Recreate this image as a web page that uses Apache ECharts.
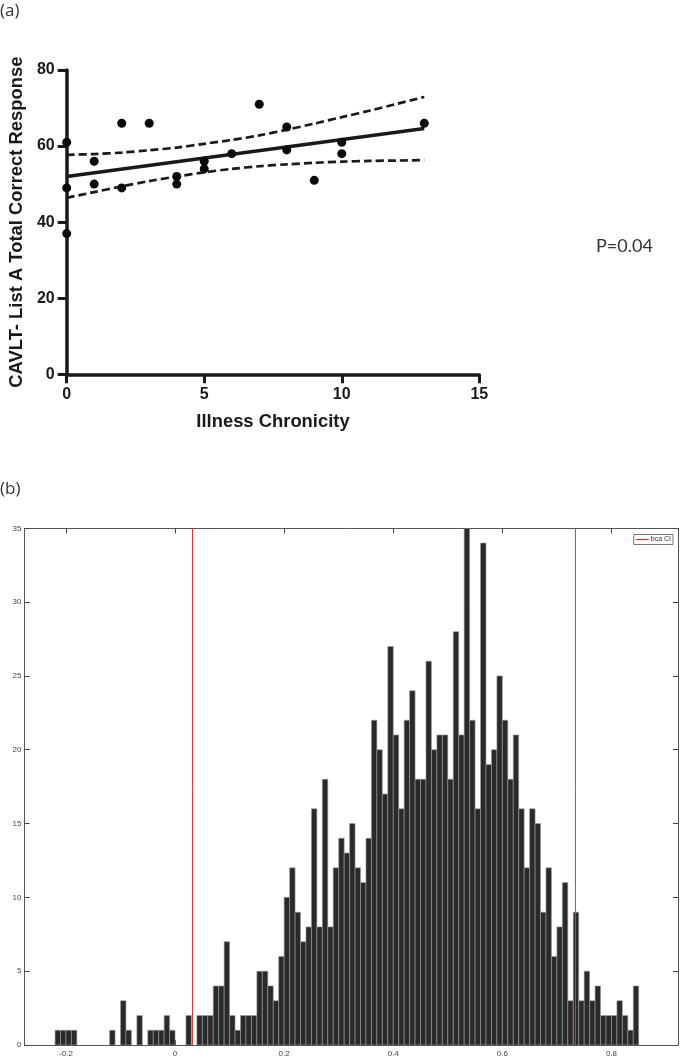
<!DOCTYPE html>
<html><head><meta charset="utf-8">
<script src="https://cdn.jsdelivr.net/npm/echarts@6/dist/echarts.min.js"></script>
<style>html,body{margin:0;padding:0;background:#fff}#c{width:685px;height:1060px}</style>
</head><body><div id="c"></div>
<script>
// ---- Panel (a) data ----
const chronicityX = [0,0,0,1,1,2,2,3,4,4,5,5,6,7,8,8,9,10,10,13];
const cavltY      = [61,49,37,56,50,66,49,66,52,50,56,54,58,71,65,59,51,61,58,66];
const fitX = [0, 13];
const fitY = [52.0, 64.6];
const bandX     = [0,1,2,3,4,5,6,7,8,9,10,11,12,13];
const bandUpper = [57.7,57.9,58.3,58.9,59.6,60.6,61.6,62.8,64.3,65.9,67.6,69.3,71.1,72.9];
const bandLower = [46.4,47.9,49.4,50.8,52.0,53.1,54.0,54.7,55.2,55.6,55.9,56.1,56.2,56.3];
const pValueText = 'P=0.04';

// ---- Panel (b) data ----
const histStart = -0.22;
const histBinWidth = 0.01;
const histCounts = [
  1,1,1,1,0,0,0,0,0,0, 1,0,3,1,0,2,0,1,1,1,
  2,1,0,0,2,0,2,2,2,4, 4,7,2,1,2,2,2,5,5,4,
  3,6,10,12,9,7,8,16,8,18, 8,12,14,13,15,12,11,14,22,20,
  17,27,21,16,22,24,18,18,26,20, 21,21,18,28,21,35,22,16,34,19,
  20,25,22,18,21,16,12,16,15,9, 12,6,8,11,3,9,3,5,3,4,
  2,2,2,3,2,1,4
];
const bcaCI = [0.032, 0.734];
const histTicks = [-0.2, 0, 0.2, 0.4, 0.6, 0.8];

const histData = [];
histCounts.forEach((c, i) => {
  if (c > 0) {
    const x0 = Math.round((histStart + i * histBinWidth) * 1000) / 1000;
    const x1 = Math.round((histStart + (i + 1) * histBinWidth) * 1000) / 1000;
    histData.push([x0, x1, c]);
  }
});
const ciLineData = [[bcaCI[0], 0], [bcaCI[0], 35], '-', [bcaCI[1], 0], [bcaCI[1], 35]];

const chart = echarts.init(document.getElementById('c'), null, {renderer: 'canvas'});
const dark = '#1a1a1a';
const boldFont = 'Liberation Sans';
const ciColor = '#d43c3c';

const option = {
  backgroundColor: '#fff',
  animation: false,
  grid: [
    {left: 66.7, right: 205.7, top: 70, bottom: 685.7, containLabel: false},
    {left: 24.5, right: 7, top: 528.3, bottom: 15, containLabel: false}
  ],
  xAxis: [
    {
      gridIndex: 0, type: 'value', min: 0, max: 15, interval: 5,
      name: 'Illness Chronicity', nameLocation: 'middle', nameGap: 39,
      nameTextStyle: {fontFamily: boldFont, fontWeight: 'bold', fontSize: 18.4, color: dark},
      axisLine: {show: true, onZero: false, lineStyle: {color: dark, width: 3.5}},
      axisTick: {show: true, inside: false, length: 9, lineStyle: {color: dark, width: 3}},
      axisLabel: {fontFamily: boldFont, fontWeight: 'bold', fontSize: 16, color: dark, margin: 12},
      splitLine: {show: false}
    },
    {
      gridIndex: 1, type: 'value', min: -0.276, max: 0.922, position: 'bottom',
      axisLine: {show: true, onZero: false, lineStyle: {color: '#555', width: 1}},
      axisTick: {show: true, inside: true, length: 5, customValues: histTicks, lineStyle: {color: '#444', width: 1}},
      axisLabel: {customValues: histTicks, fontFamily: 'Liberation Sans', fontSize: 8, color: '#444', margin: 5,
        formatter: v => (Math.round(v * 10) / 10).toString()},
      splitLine: {show: false}
    },
    {
      gridIndex: 1, type: 'value', min: -0.276, max: 0.922, position: 'top',
      axisLine: {show: true, onZero: false, lineStyle: {color: '#555', width: 1}},
      axisTick: {show: true, inside: true, length: 5, customValues: histTicks, lineStyle: {color: '#444', width: 1}},
      axisLabel: {show: false},
      splitLine: {show: false}
    }
  ],
  yAxis: [
    {
      gridIndex: 0, type: 'value', min: 0, max: 80, interval: 20,
      name: 'CAVLT- List A Total Correct Response', nameLocation: 'middle', nameGap: 31, nameRotate: 90,
      nameTextStyle: {fontFamily: boldFont, fontWeight: 'bold', fontSize: 18.4, color: dark},
      axisLine: {show: true, onZero: false, lineStyle: {color: dark, width: 3.5}},
      axisTick: {show: true, inside: false, length: 9, lineStyle: {color: dark, width: 3}},
      axisLabel: {fontFamily: boldFont, fontWeight: 'bold', fontSize: 16, color: dark, margin: 12},
      splitLine: {show: false}
    },
    {
      gridIndex: 1, type: 'value', min: 0, max: 35, interval: 5, position: 'left',
      axisLine: {show: true, onZero: false, lineStyle: {color: '#555', width: 1}},
      axisTick: {show: true, inside: true, length: 5, lineStyle: {color: '#444', width: 1}},
      axisLabel: {fontFamily: 'Liberation Sans', fontSize: 8, color: '#444', margin: 3},
      splitLine: {show: false}
    },
    {
      gridIndex: 1, type: 'value', min: 0, max: 35, interval: 5, position: 'right',
      axisLine: {show: true, onZero: false, lineStyle: {color: '#555', width: 1}},
      axisTick: {show: true, inside: true, length: 5, lineStyle: {color: '#444', width: 1}},
      axisLabel: {show: false},
      splitLine: {show: false}
    }
  ],
  legend: {
    data: [{name: 'bca CI', icon: 'rect', itemStyle: {color: ciColor}}],
    right: 12, top: 534.5, orient: 'horizontal',
    itemWidth: 13, itemHeight: 1.2, itemGap: 2,
    padding: [1.5, 2, 1.5, 2],
    backgroundColor: '#fff', borderColor: '#555', borderWidth: 0.8, borderRadius: 0,
    textStyle: {fontFamily: 'Liberation Sans', fontSize: 7, color: '#333', padding: [0, 0, 0, -3]},
    selectedMode: false
  },
  graphic: [
    {type: 'text', left: 0, top: 3, style: {text: '(a)', font: '17px "Open Sans"', fill: '#333'}},
    {type: 'text', left: 0, top: 481, style: {text: '(b)', font: '17px "Open Sans"', fill: '#333'}},
    {type: 'text', left: 596, top: 237, style: {text: pValueText, font: '18px Lato', fill: '#333'}}
  ],
  series: [
    {
      type: 'line', xAxisIndex: 0, yAxisIndex: 0, symbol: 'none', smooth: 0.3,
      data: bandX.map((x, i) => [x, bandUpper[i]]),
      lineStyle: {color: dark, width: 2.7, type: [8, 4]}, z: 2
    },
    {
      type: 'line', xAxisIndex: 0, yAxisIndex: 0, symbol: 'none', smooth: 0.3,
      data: bandX.map((x, i) => [x, bandLower[i]]),
      lineStyle: {color: dark, width: 2.7, type: [8, 4]}, z: 2
    },
    {
      type: 'line', xAxisIndex: 0, yAxisIndex: 0, symbol: 'none',
      data: fitX.map((x, i) => [x, fitY[i]]),
      lineStyle: {color: dark, width: 3.5}, z: 3
    },
    {
      type: 'scatter', xAxisIndex: 0, yAxisIndex: 0, symbol: 'circle', symbolSize: 9,
      data: chronicityX.map((x, i) => [x, cavltY[i]]),
      itemStyle: {color: '#0a0a0a', opacity: 1}, z: 4
    },
    {
      type: 'custom', xAxisIndex: 1, yAxisIndex: 1, clip: true,
      data: histData,
      encode: {x: [0, 1], y: 2},
      renderItem: function (params, api) {
        const p0 = api.coord([api.value(0), api.value(2)]);
        const p1 = api.coord([api.value(1), 0]);
        return {
          type: 'rect',
          shape: {x: p0[0], y: p0[1], width: p1[0] - p0[0], height: p1[1] - p0[1]},
          style: {fill: '#2a2a2a', stroke: '#9c9c9c', lineWidth: 0.6}
        };
      },
      z: 2
    },
    {
      name: 'bca CI', type: 'line', xAxisIndex: 1, yAxisIndex: 1, symbol: 'none',
      color: ciColor, connectNulls: false,
      data: ciLineData,
      lineStyle: {color: ciColor, width: 1}, itemStyle: {color: ciColor}, z: 5
    }
  ]
};
chart.setOption(option);
</script>
</body></html>
